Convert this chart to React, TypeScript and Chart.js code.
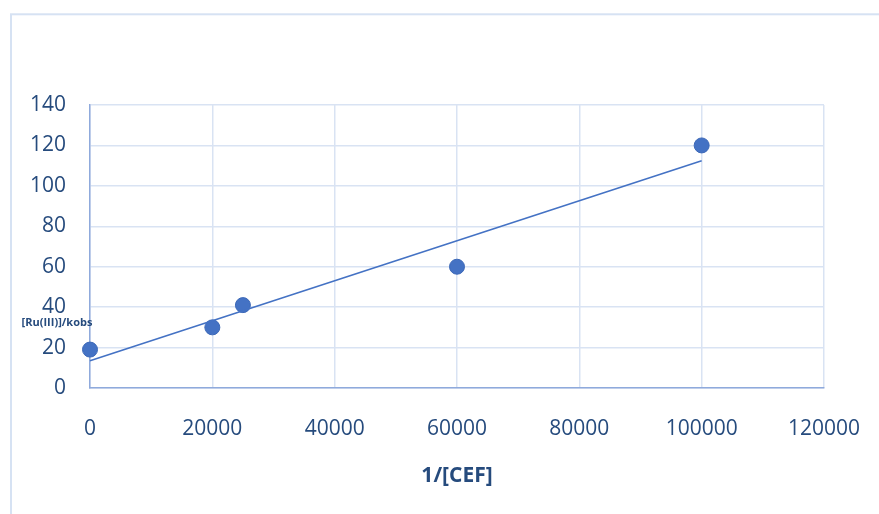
import React, { useEffect, useRef } from "react";
import { Chart, registerables } from "chart.js";

Chart.register(...registerables);

// Measured points: 1/[CEF] against [Ru(III)]/kobs
const invCef = [0, 20000, 25000, 60000, 100000];
const ruOverKobs = [19, 30, 41, 60, 120];

const xTicks = [0, 20000, 40000, 60000, 80000, 100000, 120000];
const yTicks = [0, 20, 40, 60, 80, 100, 120, 140];

const xTitle = "1/[CEF]";
const yTitle = "[Ru(III)]/kobs";

const TEXT = "#264B7D";
const POINT = "#4472C4";
const GRID = "#D9E3F3";
const AXIS = "#8FAADC";
const FONT = "'Open Sans', 'Liberation Sans', sans-serif";

// Least-squares fit of the measured points
function linearFit(xs: number[], ys: number[]) {
  const n = xs.length;
  const mx = xs.reduce((a, b) => a + b, 0) / n;
  const my = ys.reduce((a, b) => a + b, 0) / n;
  let sxx = 0;
  let sxy = 0;
  for (let i = 0; i < n; i++) {
    sxx += (xs[i] - mx) ** 2;
    sxy += (xs[i] - mx) * (ys[i] - my);
  }
  const slope = sxy / sxx;
  return { slope, intercept: my - slope * mx };
}

const fit = linearFit(invCef, ruOverKobs);
const fitX = [Math.min(...invCef), Math.max(...invCef)];

const frameAndTitles = {
  id: "frameAndTitles",
  beforeDraw(chart: any) {
    const { ctx } = chart;
    ctx.save();
    ctx.fillStyle = "#ffffff";
    ctx.fillRect(0, 0, chart.width, chart.height);
    ctx.strokeStyle = "#D6E2F3";
    ctx.lineWidth = 2;
    ctx.strokeRect(11, 14.3, chart.width + 20, chart.height + 20);
    ctx.restore();
  },
  afterDraw(chart: any) {
    const { ctx, chartArea } = chart;
    ctx.save();
    ctx.fillStyle = TEXT;
    ctx.textAlign = "center";
    ctx.textBaseline = "middle";
    ctx.font = `bold 21px ${FONT}`;
    ctx.fillText(xTitle, (chartArea.left + chartArea.right) / 2, 476);
    ctx.font = `bold 11px ${FONT}`;
    ctx.fillText(yTitle, 57, 323);
    ctx.restore();
  },
};

export default function App() {
  const canvasRef = useRef<HTMLCanvasElement | null>(null);

  useEffect(() => {
    if (!canvasRef.current) return;
    const chart = new Chart(canvasRef.current, {
      type: "scatter",
      data: {
        datasets: [
          {
            label: "fit",
            data: fitX.map((x) => ({ x, y: fit.intercept + fit.slope * x })),
            showLine: true,
            borderColor: POINT,
            borderWidth: 1.6,
            pointRadius: 0,
            clip: false,
            order: 0,
          },
          {
            label: "data",
            data: invCef.map((x, i) => ({ x, y: ruOverKobs[i] })),
            backgroundColor: POINT,
            borderColor: "#3D69B8",
            borderWidth: 1,
            pointRadius: 7.5,
            pointHoverRadius: 7.5,
            clip: false,
            order: 1,
          },
        ],
      },
      options: {
        responsive: false,
        animation: false,
        events: [],
        layout: { padding: { left: 0, top: 105, right: 55, bottom: 0 } },
        plugins: {
          legend: { display: false },
          tooltip: { enabled: false },
        },
        scales: {
          x: {
            type: "linear",
            min: 0,
            max: 120000,
            afterBuildTicks: (s: any) => {
              s.ticks = xTicks.map((v) => ({ value: v }));
            },
            afterFit: (s: any) => {
              s.height = 126;
              s.paddingLeft = 0;
              s.paddingRight = 0;
            },
            grid: { color: GRID, lineWidth: 1.5, drawTicks: false },
            border: { color: AXIS, width: 1.5 },
            ticks: {
              padding: 28,
              color: TEXT,
              font: { family: FONT, size: 21 },
              maxRotation: 0,
              callback: (v: any) => String(v),
            },
          },
          y: {
            type: "linear",
            min: 0,
            max: 140,
            afterBuildTicks: (s: any) => {
              s.ticks = yTicks.map((v) => ({ value: v }));
            },
            afterFit: (s: any) => {
              s.width = 90;
              s.paddingTop = 0;
              s.paddingBottom = 0;
            },
            grid: { color: GRID, lineWidth: 1.5, drawTicks: false },
            border: { color: AXIS, width: 1.5 },
            ticks: {
              padding: 24,
              color: TEXT,
              font: { family: FONT, size: 21 },
              callback: (v: any) => String(v),
            },
          },
        },
      },
      plugins: [frameAndTitles],
    });
    return () => chart.destroy();
  }, []);

  return (
    <div style={{ position: "fixed", left: 0, top: 0, width: 879, height: 514 }}>
      <canvas ref={canvasRef} width={879} height={514} style={{ width: 879, height: 514 }} />
    </div>
  );
}
